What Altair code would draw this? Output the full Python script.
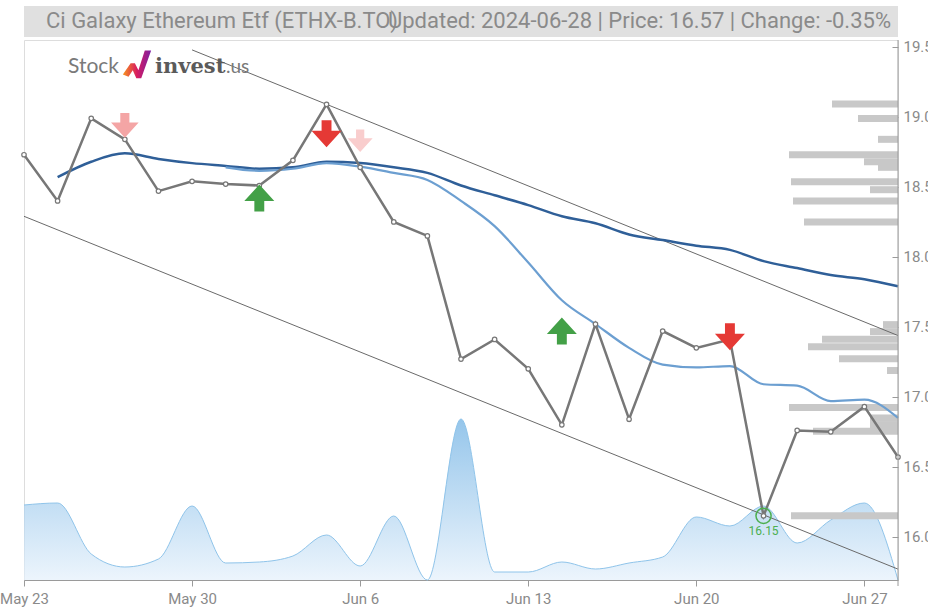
import altair as alt
import pandas as pd

# ---------------- data ----------------
dates = ["May 23", "May 24", "May 27", "May 28", "May 29", "May 30", "May 31",
         "Jun 3", "Jun 4", "Jun 5", "Jun 6", "Jun 7", "Jun 10", "Jun 11",
         "Jun 12", "Jun 13", "Jun 14", "Jun 17", "Jun 18", "Jun 19", "Jun 20",
         "Jun 21", "Jun 24", "Jun 25", "Jun 26", "Jun 27", "Jun 28"]
tick_idx = [0, 5, 10, 15, 20, 25]

close = [18.73, 18.40, 18.99, 18.84, 18.47, 18.54, 18.52, 18.51, 18.69, 19.09,
         18.64, 18.25, 18.15, 17.27, 17.41, 17.20, 16.80, 17.52, 16.84, 17.47,
         17.35, 17.41, 16.15, 16.76, 16.75, 16.93, 16.57]
ma_long = [None, 18.57, 18.68, 18.74, 18.70, 18.67, 18.65, 18.63, 18.64, 18.68,
           18.67, 18.64, 18.60, 18.51, 18.44, 18.37, 18.29, 18.24, 18.16, 18.12,
           18.08, 18.05, 17.97, 17.92, 17.87, 17.84, 17.79]
ma_short = [None, None, None, None, None, None, 18.64, 18.615, 18.63, 18.67,
            18.645, 18.60, 18.55, 18.40, 18.22, 17.96, 17.69, 17.52, 17.35, 17.23,
            17.21, 17.22, 17.09, 17.08, 16.97, 16.98, 16.85]
volume = [7500, 7700, 2600, 1300, 2100, 7400, 1700, 1800, 2400, 4500, 1400, 6400,
          0, 16100, 800, 800, 1800, 1100, 1700, 2300, 6300, 5400, 7400, 3700,
          6000, 7700, 0]

# volume-by-price profile
prof_price = [19.093, 18.988, 18.84, 18.73, 18.68, 18.64, 18.537, 18.48, 18.40,
              18.25, 17.516, 17.466, 17.412, 17.358, 17.272, 17.188, 16.924,
              16.849, 16.802, 16.755, 16.15]
prof_vol = [6600, 4000, 2000, 10900, 3400, 2000, 10700, 2800, 10500, 9400, 1500,
            2800, 7600, 9000, 5900, 1100, 10900, 2800, 2800, 8500, 10700]

# trend channel end points
chan_name = ["upper", "upper", "lower", "lower"]
chan_idx = [5, 26, 0, 26]
chan_val = [19.479, 17.438, 18.290, 15.769]

# signals
sig_down_idx = [3, 9, 10, 21]
sig_down_val = [18.94, 18.88, 18.83, 17.43]
sig_down_kind = ["weak", "strong", "faint", "strong"]
sig_up_idx = [7, 16]
sig_up_val = [18.42, 17.47]

low_idx = [22]
low_val = [16.15]

title_left = "Ci Galaxy Ethereum Etf (ETHX-B.TO)"
title_right = "Updated: 2024-06-28 | Price: 16.57 | Change: -0.35%"

# ---------------- chart ----------------
W, H = 874, 540
FONT = "Roboto"
YDOM = [15.727, 19.514]

df = pd.DataFrame({"idx": list(range(len(close))), "date": dates, "close": close,
                   "ma_long": ma_long, "ma_short": ma_short, "vol": volume})
label_expr = "[" + ",".join("'%s'" % d for d in dates) + "][datum.value]"

x_enc = alt.X("idx:Q", scale=alt.Scale(domain=[0, 26], nice=False, zero=False),
              axis=alt.Axis(values=tick_idx, labelExpr=label_expr, grid=False,
                            domainColor="#9a9a9a", tickColor="#9a9a9a", tickSize=6,
                            labelColor="#8a8a8a", labelFontSize=15, labelFont=FONT,
                            labelPadding=5, labelFlush=False, labelOverlap=False,
                            title=None))
y_axis = alt.Axis(orient="right", values=[16, 16.5, 17, 17.5, 18, 18.5, 19, 19.5],
                  format=".1f", grid=False, domain=False, tickColor="#9a9a9a",
                  tickSize=6, offset=-6, labelPadding=5, labelColor="#8a8a8a",
                  labelFontSize=15, labelFont=FONT, labelFlush=False, title=None)


def yq(field):
    return alt.Y(field, type="quantitative",
                 scale=alt.Scale(domain=YDOM, nice=False, zero=False), axis=y_axis)


base = alt.Chart(df)

grad = alt.Gradient(gradient="linear",
                    stops=[alt.GradientStop(color="#e4f0fb", offset=0),
                           alt.GradientStop(color="#68ade2", offset=1)],
                    x1=1, x2=1, y1=1, y2=0)
vol_area = base.mark_area(interpolate="monotone", color=grad,
                          line=alt.OverlayMarkDef(color="#8fc4ea", strokeWidth=1)).encode(
    x=alt.X("idx:Q", scale=alt.Scale(domain=[0, 26], nice=False), axis=None),
    y=alt.Y("vol:Q", scale=alt.Scale(domain=[0, 54000]), axis=None),
)

prof_df = pd.DataFrame({"price": prof_price, "pvol": prof_vol})
bars = alt.Chart(prof_df).mark_bar(orient="horizontal", size=7, color="#c8c8c8").encode(
    x=alt.X("pvol:Q", scale=alt.Scale(domain=[0, 87400], reverse=True), axis=None),
    y=yq("price"),
)

chan_df = pd.DataFrame({"line": chan_name, "idx": chan_idx, "val": chan_val})
channel = alt.Chart(chan_df).mark_line(color="#6a6a6a", strokeWidth=1).encode(
    x=x_enc, y=yq("val"), detail="line:N")

ma_l = base.mark_line(color="#2f5f98", strokeWidth=2.5, interpolate="monotone").encode(
    x=x_enc, y=yq("ma_long"))
ma_s = base.mark_line(color="#6c9fd1", strokeWidth=2.2, interpolate="monotone").encode(
    x=x_enc, y=yq("ma_short"))
price_line = base.mark_line(color="#777777", strokeWidth=2.5).encode(x=x_enc, y=yq("close"))
price_pts = base.mark_circle(fill="white", stroke="#777777", strokeWidth=1.2, size=20,
                             opacity=1).encode(x=x_enc, y=yq("close"))

DOWN = "M-0.33,-0.9 L0.33,-0.9 L0.33,-0.2 L1,-0.2 L0,0.9 L-1,-0.2 L-0.33,-0.2 Z"
UP = "M-0.33,0.9 L0.33,0.9 L0.33,0.2 L1,0.2 L0,-0.9 L-1,0.2 L-0.33,0.2 Z"
down_df = pd.DataFrame({"idx": sig_down_idx, "val": sig_down_val, "kind": sig_down_kind})
up_df = pd.DataFrame({"idx": sig_up_idx, "val": sig_up_val, "kind": ["strong"] * len(sig_up_idx)})
size_scale = alt.Scale(domain=["strong", "weak", "faint"], range=[900, 625, 625])
down_arrows = alt.Chart(down_df).mark_point(shape=DOWN, filled=True, opacity=1).encode(
    x=x_enc, y=yq("val"),
    color=alt.Color("kind:N", scale=alt.Scale(domain=["strong", "weak", "faint"],
                                              range=["#e53935", "#f4a5a5", "#f9cdcd"]),
                    legend=None),
    size=alt.Size("kind:N", scale=size_scale, legend=None))
up_arrows = alt.Chart(up_df).mark_point(shape=UP, filled=True, opacity=1, color="#43a047",
                                        size=900).encode(x=x_enc, y=yq("val"))

low_df = pd.DataFrame({"idx": low_idx, "val": low_val})
low_circle = alt.Chart(low_df).mark_point(shape="circle", filled=False, color="#4caf50",
                                          strokeWidth=1.5, size=230, opacity=1).encode(
    x=x_enc, y=yq("val"))
low_text = alt.Chart(low_df).mark_text(color="#4caf50", fontSize=12, font=FONT, dy=15,
                                       baseline="middle").encode(
    x=x_enc, y=yq("val"), text=alt.Text("val:Q", format=".2f"))

price_core = alt.layer(channel, ma_l, ma_s, price_line, price_pts, down_arrows,
                       up_arrows, low_circle, low_text)
mid = alt.layer(bars, price_core).resolve_scale(x="independent", color="independent",
                                               size="independent")

one = pd.DataFrame({"a": [0]})
right_domain = alt.Chart(one).mark_rule(color="#9a9a9a", strokeWidth=1).encode(
    x=alt.value(W), y=alt.value(0), y2=alt.value(H + 6))
title_box = alt.Chart(one).mark_rect(color="#e0e0e0").encode(
    x=alt.value(0), x2=alt.value(W), y=alt.value(-34), y2=alt.value(-3))
t_left = alt.Chart(one).mark_text(align="left", baseline="middle", fontSize=22,
                                  font=FONT, color="#8a8a8a").encode(
    x=alt.value(22), y=alt.value(-19), text=alt.value(title_left))
t_right = alt.Chart(one).mark_text(align="right", baseline="middle", fontSize=22,
                                   font=FONT, color="#8a8a8a").encode(
    x=alt.value(867), y=alt.value(-19), text=alt.value(title_right))

logo_stock = alt.Chart(one).mark_text(align="left", baseline="alphabetic", fontSize=21,
                                      font="Lato", color="#7a7a7a").encode(
    x=alt.value(44), y=alt.value(33), text=alt.value("Stock"))
ICON = ("M-1,0.75 L-0.45,-0.05 L-0.15,-0.05 L0.1,0.45 L0.55,-0.95 L1,-0.95 "
        "L0.3,1 L-0.05,1 L-0.3,0.45 L-0.6,0.9 Z")
icon_grad = alt.Gradient(gradient="linear",
                         stops=[alt.GradientStop(color="#f7941d", offset=0),
                                alt.GradientStop(color="#d81b60", offset=0.5),
                                alt.GradientStop(color="#7b1fa2", offset=1)],
                         x1=0, x2=1, y1=0.5, y2=0.5)
logo_icon = alt.Chart(one).mark_point(shape=ICON, filled=True, fill=icon_grad, opacity=1,
                                      size=800, strokeWidth=0).encode(
    x=alt.value(113), y=alt.value(24))
logo_invest = alt.Chart(one).mark_text(align="left", baseline="alphabetic", fontSize=21,
                                       font="DejaVu Serif", fontWeight="bold",
                                       color="#5a5a5a").encode(
    x=alt.value(131), y=alt.value(33), text=alt.value("invest"))
logo_us = alt.Chart(one).mark_text(align="left", baseline="alphabetic", fontSize=19,
                                   font="Lato", color="#7a7a7a").encode(
    x=alt.value(202), y=alt.value(33), text=alt.value(".us"))

chart = alt.layer(vol_area, mid, right_domain, title_box, t_left, t_right,
                  logo_stock, logo_icon, logo_invest, logo_us).resolve_scale(
    x="independent", y="independent").properties(
    width=W, height=H,
    autosize=alt.AutoSizeParams(type="none"),
    padding={"left": 24, "top": 40, "right": 30, "bottom": 28},
).configure_view(strokeWidth=0, stroke="transparent").configure(background="white")

chart.save("out.html", embed_options={"renderer": "svg", "actions": False})
